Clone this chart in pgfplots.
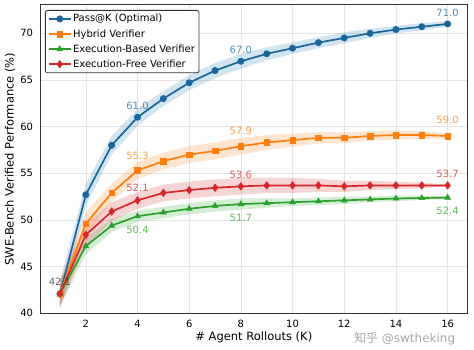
\documentclass[border=0pt]{standalone}
\usepackage{pgfplots}
\usepackage{pgfplotstable}
\pgfplotsset{compat=1.18}
\usepgfplotslibrary{fillbetween}
\usepackage{fontspec}
\setmainfont{DejaVu Sans}
\newfontfamily\cjk{Noto Sans CJK SC}
\definecolor{cblue}{HTML}{1F77B4}
\definecolor{corange}{HTML}{FF7F0E}
\definecolor{cgreen}{HTML}{2CA02C}
\definecolor{cred}{HTML}{D62728}

\pgfplotstableread{
x y lo hi
1 42.1 40.7 43.5
2 52.7 51.5 53.9
3 58.0 57.0 59.0
4 61.0 60.1 61.9
5 63.0 62.2 63.8
6 64.7 63.9 65.5
7 66.0 65.2 66.8
8 67.0 66.2 67.8
9 67.8 67.1 68.5
10 68.4 67.8 69.0
11 69.0 68.4 69.6
12 69.5 68.9 70.1
13 70.0 69.5 70.5
14 70.4 70.0 70.8
15 70.7 70.3 71.1
16 71.0 70.7 71.3
}\passk

\pgfplotstableread{
x y lo hi
1 42.1 40.7 43.5
2 49.6 48.4 50.8
3 52.9 51.9 53.9
4 55.3 54.4 56.2
5 56.3 55.4 57.2
6 57.0 56.1 57.9
7 57.4 56.5 58.3
8 57.9 57.0 58.8
9 58.3 57.5 59.1
10 58.55 57.85 59.25
11 58.8 58.2 59.4
12 58.8 58.2 59.4
13 59.0 58.5 59.5
14 59.1 58.6 59.6
15 59.1 58.7 59.5
16 59.0 58.7 59.3
}\hybrid

\pgfplotstableread{
x y lo hi
1 42.1 40.7 43.5
2 47.2 46.3 48.1
3 49.4 48.7 50.1
4 50.4 49.8 51.0
5 50.8 50.2 51.4
6 51.2 50.6 51.8
7 51.5 50.9 52.1
8 51.7 51.1 52.3
9 51.8 51.3 52.3
10 51.9 51.5 52.3
11 52.0 51.6 52.4
12 52.1 51.7 52.5
13 52.2 51.9 52.5
14 52.3 52.0 52.6
15 52.35 52.15 52.55
16 52.4 52.2 52.6
}\execbased

\pgfplotstableread{
x y lo hi
1 42.1 40.7 43.5
2 48.4 47.2 49.6
3 50.9 49.9 51.9
4 52.1 51.2 53.0
5 52.9 52.0 53.8
6 53.2 52.3 54.1
7 53.45 52.55 54.35
8 53.6 52.7 54.5
9 53.7 52.9 54.5
10 53.7 52.9 54.5
11 53.7 53.0 54.4
12 53.6 53.0 54.2
13 53.7 53.2 54.2
14 53.7 53.3 54.1
15 53.7 53.4 54.0
16 53.7 53.6 53.8
}\execfree

\begin{document}
\begin{tikzpicture}
\begin{axis}[
  width=426.4pt, height=308.3pt, scale only axis,
  xmin=0.25, xmax=16.75, ymin=40, ymax=73.03,
  xtick={2,4,...,16}, ytick={40,45,...,70},
  grid=major,
  major grid style={draw=black!10, line width=0.6pt},
  axis line style={draw=black!80, line width=1pt},
  major tick length=0pt,
  /pgf/number format/assume math mode=true,
  tick label style={font=\fontsize{10}{12}\selectfont, black},
  yticklabel style={xshift=-4pt},
  xticklabel style={yshift=-3.5pt},
  xlabel={\# Agent Rollouts (K)},
  ylabel={SWE-Bench Verified Performance (\%)},
  label style={font=\fontsize{11.5}{13}\selectfont},
  xlabel style={at={(axis description cs:0.5,-0.077)}, anchor=center},
  ylabel style={at={(axis description cs:-0.0718,0.5)}, anchor=center},
  legend style={at={(axis description cs:0.0103,0.9838)}, anchor=north west,
    font=\fontsize{10}{12}\selectfont, draw=black!80, line width=0.8pt,
    rounded corners=2pt, inner xsep=2.5pt, inner ysep=2.5pt,
    nodes={inner sep=1.5pt}, row sep=3pt,
    cells={anchor=west}},
  legend image code/.code={\draw[mark repeat=2,mark phase=2] plot coordinates {(0pt,0pt) (11pt,0pt) (22pt,0pt)};},
  legend cell align=left,
]
% bands
\addplot[draw=none, name path=bu, forget plot] table[x=x,y=hi] {\passk};
\addplot[draw=none, name path=bl, forget plot] table[x=x,y=lo] {\passk};
\addplot[fill=cblue, fill opacity=0.2, draw=none, forget plot] fill between[of=bu and bl];
\addplot[draw=none, name path=ou, forget plot] table[x=x,y=hi] {\hybrid};
\addplot[draw=none, name path=ol, forget plot] table[x=x,y=lo] {\hybrid};
\addplot[fill=corange, fill opacity=0.2, draw=none, forget plot] fill between[of=ou and ol];
\addplot[draw=none, name path=gu, forget plot] table[x=x,y=hi] {\execbased};
\addplot[draw=none, name path=gl, forget plot] table[x=x,y=lo] {\execbased};
\addplot[fill=cgreen, fill opacity=0.2, draw=none, forget plot] fill between[of=gu and gl];
\addplot[draw=none, name path=ru, forget plot] table[x=x,y=hi] {\execfree};
\addplot[draw=none, name path=rl, forget plot] table[x=x,y=lo] {\execfree};
\addplot[fill=cred, fill opacity=0.2, draw=none, forget plot] fill between[of=ru and rl];
% lines
\addplot[color=cblue!85!black, line width=1.7pt, mark=*, mark size=3.2pt, mark options={fill=cblue!85!black, draw=cblue!85!black, line width=0.5pt}] table[x=x,y=y] {\passk};
\addlegendentry{Pass@K (Optimal)}
\addplot[color=corange, line width=1.7pt, mark=square*, mark size=2.8pt, mark options={fill=corange, line width=0.5pt}] table[x=x,y=y] {\hybrid};
\addlegendentry{Hybrid Verifier}
\addplot[color=cgreen, line width=1.7pt, mark=triangle*, mark size=3.4pt, mark options={fill=cgreen, line width=0.5pt}] table[x=x,y=y] {\execbased};
\addlegendentry{Execution-Based Verifier}
\addplot[color=cred, line width=1.7pt, mark=diamond*, mark size=3.8pt, mark options={fill=cred, line width=0.5pt}] table[x=x,y=y] {\execfree};
\addlegendentry{Execution-Free Verifier}
% annotations
\begin{scope}[every node/.style={font=\fontsize{10}{12}\selectfont, text opacity=0.75, anchor=center}]
\node[text=black!80] at (axis cs:1,42.1) [yshift=12pt] {42.1};
\node[text=cblue!85!black] at (axis cs:4,61.0) [yshift=11pt] {61.0};
\node[text=cblue!85!black] at (axis cs:8,67.0) [yshift=11pt] {67.0};
\node[text=cblue!85!black] at (axis cs:16,71.0) [yshift=11.5pt] {71.0};
\node[text=corange] at (axis cs:4,55.3) [yshift=15pt] {55.3};
\node[text=corange] at (axis cs:8,57.9) [yshift=15pt] {57.9};
\node[text=corange] at (axis cs:16,59.0) [yshift=16pt] {59.0};
\node[text=cred] at (axis cs:4,52.1) [yshift=12pt] {52.1};
\node[text=cred] at (axis cs:8,53.6) [yshift=11.5pt] {53.6};
\node[text=cred] at (axis cs:16,53.7) [yshift=12pt] {53.7};
\node[text=cgreen] at (axis cs:4,50.4) [yshift=-14pt] {50.4};
\node[text=cgreen] at (axis cs:8,51.7) [yshift=-14pt] {51.7};
\node[text=cgreen] at (axis cs:16,52.4) [yshift=-13pt] {52.4};
\end{scope}
\end{axis}
\node[font=\fontsize{12}{14}\selectfont, text=black!35, inner sep=0pt] at (364pt,-25pt) {{\cjk 知乎} @swtheking};
\pgfresetboundingbox
\useasboundingbox (-40.6pt,-36.7pt) rectangle (433.4pt,313.3pt);
\end{tikzpicture}
\end{document}
